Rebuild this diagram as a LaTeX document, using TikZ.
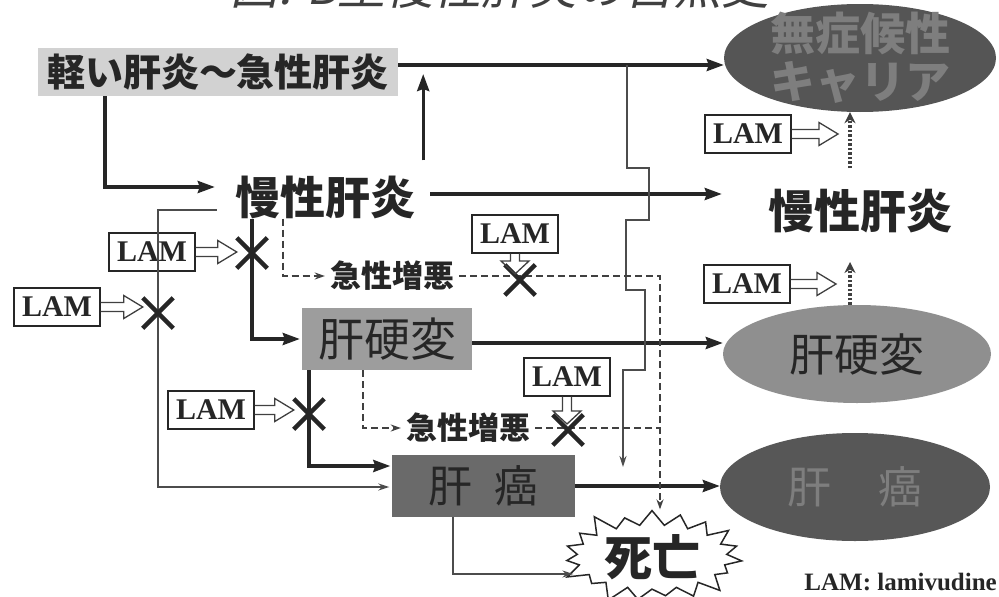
\documentclass[tikz,border=0pt]{standalone}
\usepackage{fontspec}
\newfontfamily\jp{Noto Sans CJK JP}
\newfontfamily\jptitle{Noto Sans CJK JP}[FakeSlant=0.22]
\newfontfamily\lamf{Liberation Serif}
\usetikzlibrary{shapes.geometric,shapes.misc,shapes.symbols,arrows.meta,calc}
\definecolor{mildgray}{HTML}{D2D2D2}
\definecolor{carrierfill}{HTML}{555555}
\definecolor{darktext}{HTML}{7E7E7E}
\definecolor{cirrEfill}{HTML}{8F8F8F}
\definecolor{cirrBfill}{HTML}{9D9D9D}
\definecolor{hccBfill}{HTML}{6A6A6A}
\definecolor{hccEfill}{HTML}{575757}
\definecolor{ink}{HTML}{262626}
\newcommand\hollowR[2]{\draw[hollow] let \p1=(#1), \p2=(#2) in
  (\x1,\y1+4.5pt) -- (\x2-19pt,\y1+4.5pt) -- (\x2-19pt,\y1+11.5pt) -- (\x2,\y1)
  -- (\x2-19pt,\y1-11.5pt) -- (\x2-19pt,\y1-4.5pt) -- (\x1,\y1-4.5pt);}
\newcommand\hollowD[2]{\draw[hollow] let \p1=(#1), \p2=(#2) in
  (\x1+4.5pt,\y1) -- (\x1+4.5pt,\y2+13pt) -- (\x1+14pt,\y2+13pt) -- (\x1,\y2)
  -- (\x1-14pt,\y2+13pt) -- (\x1-4.5pt,\y2+13pt) -- (\x1-4.5pt,\y1);}
\begin{document}
\begin{tikzpicture}[x=1pt,y=-1pt,
  thickarr/.style={line width=3.4pt, draw=ink, -{Stealth[length=17pt,width=12pt,inset=2pt]}},
  thinarr/.style={line width=1.6pt, draw=black!70, -{Stealth[length=11pt,width=7pt]}},
  dashline/.style={line width=1.8pt, draw=black!75, dash pattern=on 7pt off 4pt},
  dasharr/.style={dashline, -{Stealth[length=10pt,width=7pt]}},
  dotarr/.style={line width=3.5pt, draw=black!75, dash pattern=on 2.5pt off 2pt, -{Stealth[length=11pt,width=11pt]}},
  lambox/.style={draw=black!85, line width=1.4pt, fill=white, minimum width=86pt, minimum height=38pt, inner sep=0pt, font=\lamf\bfseries\fontsize{30}{30}\selectfont, text=ink},
  xmark/.style={cross out, draw=ink, line width=4.5pt, minimum size=26pt, inner sep=0pt},
  hollow/.style={draw=black!75, line width=1.3pt, line join=miter},
  jpbold/.style={font=\jp\bfseries\fontsize{#1}{#1}\selectfont, inner sep=0pt, text=ink},
  jpreg/.style={font=\jp\fontsize{#1}{#1}\selectfont, inner sep=0pt},
  ell/.style={ellipse, inner sep=0pt}]
\useasboundingbox (0,0) rectangle (999,597);
\fill[white] (0,0) rectangle (999,597);

% title (cut at the top)
\node[anchor=base, font=\jptitle\fontsize{48}{48}\selectfont, text=black!75, inner sep=0pt] (title) at (500,5) {図. B型慢性肝炎の自然史};

% main nodes
\node[fill=mildgray, minimum width=360pt, minimum height=48pt, jpbold=38] (mild) at (218,72) {軽い肝炎〜急性肝炎};
\node[ell, fill=carrierfill, minimum width=272pt, minimum height=108pt] (carrier) at (860,58) {};
\node[jpbold=44, text=darktext, align=center, font=\jp\bfseries\fontsize{45}{48}\selectfont] (carrierT) at (carrier.center) {無症候性\\キャリア};
\node[jpbold=45] (chronL) at (325,197) {慢性肝炎};
\node[jpbold=46, minimum width=276pt] (chronR) at (860,211) {慢性肝炎};
\node[fill=cirrBfill, minimum width=170pt, minimum height=62pt, jpreg=46, text=ink] (cirrB) at (387,339) {肝硬変};
\node[ell, fill=cirrEfill, minimum width=268pt, minimum height=98pt] (cirrE) at (857,354) {};
\node[jpreg=45, text=ink] (cirrET) at (cirrE.center) {肝硬変};
\node[fill=hccBfill, minimum width=183pt, minimum height=62pt, jpreg=44, text=ink] (hccB) at (483,486) {肝\hspace{22pt}癌};
\node[ell, fill=hccEfill, minimum width=270pt, minimum height=108pt] (hccE) at (855,487) {};
\node[jpreg=44, text=darktext] (hccET) at (hccE.center) {肝\hspace{48pt}癌};
\node[jpbold=31] (acute1) at (392,276) {急性増悪};
\node[jpbold=31] (acute2) at (468,428) {急性増悪};
\node[starburst, starburst points=19, starburst point height=20pt, draw=ink, line width=1.5pt, fill=white,
      minimum width=190pt, minimum height=90pt, jpbold=48] (death) at (652,557) {死亡};

% LAM boxes
\node[lambox] (lam1) at (152,252) {LAM};
\node[lambox] (lam2) at (57,307) {LAM};
\node[lambox] (lam3) at (515,234) {LAM};
\node[lambox] (lam4) at (211,410) {LAM};
\node[lambox] (lam5) at (567,377) {LAM};
\node[lambox] (lam6) at (748,134) {LAM};
\node[lambox] (lam7) at (747,284) {LAM};
\node[anchor=east, font=\lamf\bfseries\fontsize{25}{25}\selectfont, text=ink, inner sep=0pt] (legend) at (997,582) {LAM: lamivudine};

% X marks positions
\coordinate (x1c) at (252,253);
\coordinate (x2c) at (158,313);
\coordinate (x3c) at (520,280);
\coordinate (x4c) at (309,414);
\coordinate (x5c) at (568,430);

% thick connectors
\draw[thickarr] ([yshift=7pt]mild.east) -- ([yshift=7pt]mild.east -| carrier.west);
\draw[thickarr] ([xshift=-113pt]mild.south) |- ([xshift=-20pt,yshift=10pt]chronL.west);
\draw[thickarr] ([xshift=8pt,yshift=15pt]chronL.north east) -- ([xshift=8pt,yshift=-2pt]chronL.north east |- mild.east);
\draw[thickarr] ([xshift=15pt,yshift=3pt]chronL.east) -- ([yshift=3pt]chronL.east -| chronR.west);
\draw[thickarr] (x1c |- chronL.south) |- ([xshift=-2pt]cirrB.west);
\draw[thickarr] ([yshift=-4pt]cirrB.east) -- ([yshift=-4pt]cirrB.east -| cirrE.west);
\draw[thickarr] (x4c |- cirrB.south) |- ([xshift=-1pt,yshift=20pt]hccB.west);
\draw[thickarr] (hccB.east) -- (hccB.east -| hccE.west);

% thin connectors
\draw[thinarr] ([xshift=-18pt,yshift=-13pt]chronL.west) -| (x2c) |- ([xshift=-2pt,yshift=-1pt]hccB.west);
\coordinate (j1) at (627,65);
\draw[thinarr] (j1) -- ++(0,103) -- ++(22,0) -- ++(0,52) -- ++(-23,0) -- ++(0,70) -- ++(19,0) -- ++(0,80) -- ++(-22,0) -- ++(0,97);
\draw[thinarr] ([xshift=-30pt]hccB.south) |- ([xshift=2pt,yshift=-17pt]death.west);

% dashed connectors
\coordinate (dv) at ([xshift=8pt]death.north);
\draw[dasharr] ([xshift=-42pt]chronL.south) |- ([xshift=-5pt]acute1.west);
\draw[dasharr] ([xshift=5pt]acute1.east) -| (dv);
\draw[dasharr] ([xshift=-24pt]cirrB.south) |- ([xshift=-5pt]acute2.west);
\draw[dashline] ([xshift=5pt]acute2.east) -- (acute2.east -| dv);

% dotted connectors (improvement)
\coordinate (d1s) at (850,168);
\draw[dotarr] (d1s) -- (d1s |- carrier.south);
\coordinate (d2e) at (850,262);
\draw[dotarr] (cirrE.north -| d2e) -- (d2e);

% X marks
\node[xmark] (x1) at (x1c) {};
\node[xmark] (x2) at (x2c) {};
\node[xmark] (x3) at (x3c) {};
\node[xmark] (x4) at (x4c) {};
\node[xmark] (x5) at (x5c) {};

% hollow LAM arrows
\coordinate (h6) at (838,134);
\coordinate (h7) at (836,284);
\hollowR{lam1.east}{x1.west}
\hollowR{lam2.east}{x2.west}
\hollowR{lam4.east}{x4.west}
\hollowR{lam6.east}{h6}
\hollowR{lam7.east}{h7}
\hollowD{lam3.south}{[yshift=6pt]x3.center}
\hollowD{lam5.south}{[yshift=6pt]x5.center}
\end{tikzpicture}
\end{document}
